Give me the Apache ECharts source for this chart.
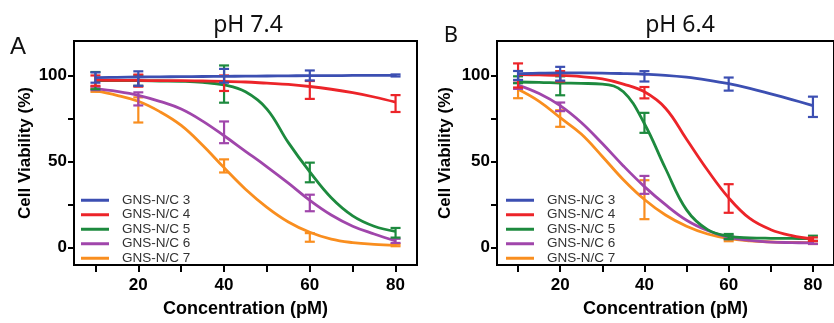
<!DOCTYPE html>
<html>
<head>
<meta charset="utf-8">
<script src="https://cdn.jsdelivr.net/npm/echarts@6/dist/echarts.min.js"></script>
<style>
  html, body { margin: 0; padding: 0; background: #fff; }
  #chart { width: 834px; height: 323px; }
</style>
</head>
<body>
<div id="chart"></div>
<script>
// sample names
const names = ["GNS-N/C 3", "GNS-N/C 4", "GNS-N/C 5", "GNS-N/C 6", "GNS-N/C 7"];

// concentrations (pM)
const concFit = [10, 15, 20, 25, 30, 35, 40, 45, 50, 55, 60, 65, 70, 75, 80];
const concPts = [10, 20, 40, 60, 80];

// tick values
const xTicks = [10, 20, 30, 40, 50, 60, 70, 80];
const xLabels = [20, 40, 60, 80];
const yTicks = [0, 25, 50, 75, 100];
const yLabels = [0, 50, 100];

// pH 7.4 - fitted curves
const fitA3 = [98.7, 98.9, 99.1, 99.2, 99.3, 99.4, 99.5, 99.6, 99.7, 99.8, 99.9, 99.9, 100, 100, 100];
const fitA4 = [97.3, 97.2, 97.1, 97.0, 97.0, 96.8, 96.6, 96.2, 95.5, 94.8, 93.6, 92.0, 90.0, 87.5, 84.5];
const fitA5 = [97, 97, 97, 96.8, 96.6, 96, 94.5, 90.5, 80.5, 61, 44, 29, 18.5, 12.5, 9.5];
const fitA6 = [92.4, 90.8, 88.5, 85, 80.5, 73.5, 65, 56, 47, 37.5, 27.5, 19, 12.5, 8, 4];
const fitA7 = [91, 88.5, 85, 79, 71, 59.5, 46.5, 34, 23.5, 15, 9, 5, 3, 2, 1.5];

// pH 7.4 - mean and error
const meanA3 = [98.8, 98.2, 99.8, 100, 100];
const sdA3 = [3, 4.2, 4, 2.9, 0.6];
const meanA4 = [97, 97, 95.5, 91.6, 83.7];
const sdA4 = [3, 3.5, 4.5, 5.2, 4.9];
const meanA5 = [97, 97, 95, 43.7, 8.7];
const sdA5 = [5, 3, 10.8, 5.7, 2.8];
const meanA6 = [92.5, 86.4, 67, 26, 4];
const sdA6 = [1, 3.8, 6.3, 4.8, 1.2];
const meanA7 = [91.5, 80, 47.5, 6, 1.5];
const sdA7 = [1, 7.3, 3.8, 2.5, 0.6];

// pH 6.4 - fitted curves
const fitB3 = [101, 101.3, 101.5, 101.5, 101.4, 101.1, 100.7, 100.1, 99, 97.3, 95.2, 92.5, 89.3, 86, 82.5];
const fitB4 = [100.5, 100.3, 100, 99.3, 98, 95, 90.5, 81, 63, 45, 29, 17, 10.5, 7, 5];
const fitB5 = [96.2, 96, 95.6, 95.4, 95, 90.5, 72, 46, 22, 10.5, 6.8, 5.8, 5.5, 5.4, 5.3];
const fitB6 = [94.4, 89.5, 82.5, 72.7, 60.5, 47.5, 35.5, 25, 16, 10, 6, 4.3, 3.3, 3, 2.8];
const fitB7 = [92, 85, 75.5, 66, 53, 39.5, 28, 19, 12.5, 8, 5.3, 4, 3.4, 3.1, 3];

// pH 6.4 - mean and error
const meanB3 = [100, 101, 99.5, 95, 81.8];
const sdB3 = [2.6, 4, 3, 3.8, 5.9];
const meanB4 = [100, 99.5, 90, 28.6, 5];
const sdB4 = [7, 3, 3.3, 8.3, 1];
const meanB5 = [97.5, 94, 72.5, 6.5, 5.5];
const sdB5 = [2, 5.5, 5.8, 1.5, 1.5];
const meanB6 = [94, 81.8, 36.5, 6, 3];
const sdB6 = [1.8, 2.5, 5.2, 1, 0.8];
const meanB7 = [92, 75, 27.9, 5, 3];
const sdB7 = [5.2, 4.8, 11.3, 1.2, 0.8];

const colors = ["#3c4fb2", "#ec2429", "#1d8a3e", "#a046ab", "#f98e1f"];

const panels = [
  { fits: [fitA3, fitA4, fitA5, fitA6, fitA7], means: [meanA3, meanA4, meanA5, meanA6, meanA7], sds: [sdA3, sdA4, sdA5, sdA6, sdA7] },
  { fits: [fitB3, fitB4, fitB5, fitB6, fitB7], means: [meanB3, meanB4, meanB5, meanB6, meanB7], sds: [sdB3, sdB4, sdB5, sdB6, sdB7] }
];

const tickFont = { color: "#000", fontFamily: "Liberation Sans, Arial", fontWeight: "bold", fontSize: 17 };

function errorBars(params, api) {
  const x = api.value(0), m = api.value(1), s = api.value(2);
  const top = api.coord([x, m + s]);
  const bot = api.coord([x, m - s]);
  const w = 5;
  const style = { stroke: api.visual("color"), lineWidth: 2.2 };
  return {
    type: "group",
    children: [
      { type: "line", shape: { x1: top[0], y1: top[1], x2: bot[0], y2: bot[1] }, style },
      { type: "line", shape: { x1: top[0] - w, y1: top[1], x2: top[0] + w, y2: top[1] }, style },
      { type: "line", shape: { x1: bot[0] - w, y1: bot[1], x2: bot[0] + w, y2: bot[1] }, style }
    ]
  };
}

const grids = [];
const xAxes = [];
const yAxes = [];
const legends = [];
const series = [];
const gridLefts = [74, 497];
const yNameGaps = [40, 43];
const legendLefts = [81, 506];

panels.forEach((p, gi) => {
  grids.push({ left: gridLefts[gi], top: 41, width: 343, height: 229, show: true, borderColor: "#000", borderWidth: 2, containLabel: false });
  xAxes.push({
    gridIndex: gi, type: "value", min: 5, max: 85,
    name: "Concentration (pM)", nameLocation: "middle", nameGap: 35,
    nameTextStyle: { color: "#000", fontFamily: "Liberation Sans, Arial", fontWeight: "bold", fontSize: 18 },
    axisLine: { show: true, onZero: false, lineStyle: { color: "#000", width: 2 } },
    axisTick: { show: true, length: 7, customValues: xTicks, lineStyle: { color: "#000", width: 2 } },
    axisLabel: Object.assign({ margin: 12, customValues: xLabels }, tickFont),
    splitLine: { show: false }
  });
  yAxes.push({
    gridIndex: gi, type: "value", min: -10, max: 120,
    name: "Cell Viability (%)", nameLocation: "middle", nameGap: yNameGaps[gi],
    nameTextStyle: { color: "#000", fontFamily: "Liberation Sans, Arial", fontWeight: "bold", fontSize: 17 },
    axisLine: { show: true, onZero: false, lineStyle: { color: "#000", width: 2 } },
    axisTick: { show: true, length: 6, customValues: yTicks, lineStyle: { color: "#000", width: 2 } },
    axisLabel: Object.assign({ margin: 7, customValues: yLabels }, tickFont),
    splitLine: { show: false }
  });
  legends.push({
    data: names, orient: "vertical", left: legendLefts[gi], top: 193, padding: 0,
    icon: "rect", itemWidth: 28, itemHeight: 3, itemGap: 0,
    selectedMode: false,
    textStyle: { color: "#333", fontFamily: "Liberation Sans, Arial", fontSize: 13.5, lineHeight: 14.5, padding: [0, 0, 0, 8] }
  });
  // draw 7 first so 3 ends on top
  for (let k = names.length - 1; k >= 0; k--) {
    series.push({
      name: names[k], type: "line", xAxisIndex: gi, yAxisIndex: gi,
      data: concFit.map((c, i) => [c, p.fits[k][i]]),
      smooth: 0.4, showSymbol: false, color: colors[k],
      lineStyle: { width: 2.8, color: colors[k] }, z: 3 + (names.length - k)
    });
    series.push({
      name: names[k] + " error", type: "custom", xAxisIndex: gi, yAxisIndex: gi,
      data: concPts.map((c, i) => [c, p.means[k][i], p.sds[k][i]]),
      renderItem: errorBars, itemStyle: { color: colors[k] },
      encode: { x: 0, y: 1 }, z: 3 + (names.length - k)
    });
  }
});

const chart = echarts.init(document.getElementById("chart"), null, { renderer: "canvas" });
chart.setOption({
  animation: false,
  grid: grids,
  xAxis: xAxes,
  yAxis: yAxes,
  legend: legends,
  graphic: [
    { type: "text", x: 248, y: 25, style: { text: "pH 7.4", fontFamily: "Noto Sans", fontSize: 23, fill: "#111", align: "center", verticalAlign: "middle" } },
    { type: "text", x: 680, y: 25, style: { text: "pH 6.4", fontFamily: "Noto Sans", fontSize: 23, fill: "#111", align: "center", verticalAlign: "middle" } },
    { type: "text", x: 18, y: 47, style: { text: "A", fontFamily: "Liberation Sans, Arial", fontSize: 24, fill: "#111", align: "center", verticalAlign: "middle" } },
    { type: "text", x: 451, y: 36, style: { text: "B", fontFamily: "Noto Sans", fontSize: 22, fill: "#111", align: "center", verticalAlign: "middle" } }
  ],
  series
});
window.addEventListener("resize", () => chart.resize());
</script>
</body>
</html>
